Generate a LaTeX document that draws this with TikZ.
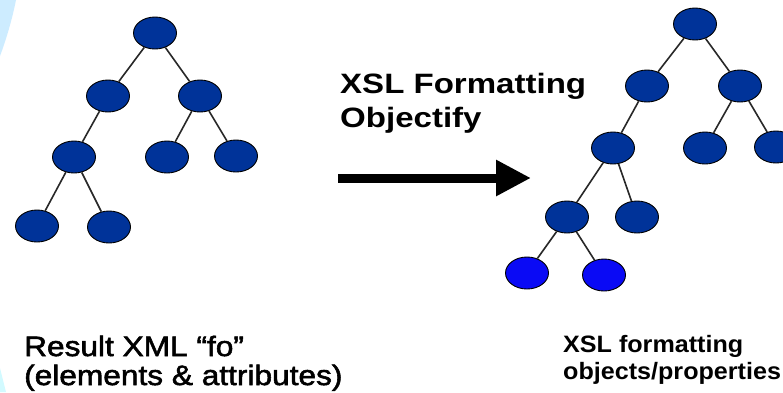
\documentclass[tikz,border=0pt]{standalone}
\usepackage{fontspec}
\setmainfont{Liberation Sans}
\newfontfamily\titlefont[FakeStretch=1.18]{Liberation Sans}
\newfontfamily\leftfont[FakeStretch=1.13,FakeBold=2]{Liberation Sans}
\newfontfamily\rightfont[FakeStretch=1.06]{Liberation Sans}
\usetikzlibrary{arrows.meta,shapes.geometric}
\definecolor{navy}{RGB}{0,51,153}
\definecolor{brightblue}{RGB}{10,10,245}
\definecolor{edgegray}{RGB}{40,40,40}
\definecolor{paleblue}{RGB}{205,236,255}
\tikzset{
  treenode/.style={ellipse, draw=black, line width=0.9pt, fill=navy, minimum width=43pt, minimum height=32pt, inner sep=0pt},
  leafnode/.style={treenode, fill=brightblue},
  treeedge/.style={draw=edgegray, line width=1.6pt},
  bigarrow/.style={line width=9pt, -{Triangle[length=35pt,width=34pt]}},
  txt/.style={anchor=base west, inner sep=0pt, text=black}
}
\begin{document}
\begin{tikzpicture}[x=1pt,y=-1pt]
\useasboundingbox (0,0) rectangle (783,392);
\fill[white] (0,0) rectangle (783,392);
% pale decoration at the left edge
\fill[paleblue] (0,0) -- (16,0) .. controls (12,20) and (6,40) .. (0,56) -- cycle;
\fill[paleblue!70!cyan!40] (0,368) -- (6,392) -- (0,392) -- cycle;

% left tree
\node[treenode] (l0) at (155,33) {};
\node[treenode] (l1a) at (108,96) {};
\node[treenode] (l1b) at (200,96) {};
\node[treenode] (l2a) at (74,157) {};
\node[treenode] (l2b) at (167,157) {};
\node[treenode] (l2c) at (236,156) {};
\node[treenode] (l3a) at (37,226) {};
\node[treenode] (l3b) at (109,227) {};

% right tree
\node[treenode] (r0) at (695,24) {};
\node[treenode] (r1a) at (647,86) {};
\node[treenode] (r1b) at (740,86) {};
\node[treenode] (r2a) at (613,148) {};
\node[treenode] (r2b) at (705,148) {};
\node[treenode] (r2c) at (776,147) {};
\node[treenode] (r3a) at (567,217) {};
\node[treenode] (r3b) at (637,217) {};
\node[leafnode] (r4a) at (527,273) {};
\node[leafnode] (r4b) at (604,275) {};

% edges
\draw[treeedge] (l0) -- (l1a);
\draw[treeedge] (l0) -- (l1b);
\draw[treeedge] (l1a) -- (l2a);
\draw[treeedge] (l1b) -- (l2b);
\draw[treeedge] (l1b) -- (l2c);
\draw[treeedge] (l2a) -- (l3a);
\draw[treeedge] (l2a) -- (l3b);
\draw[treeedge] (r0) -- (r1a);
\draw[treeedge] (r0) -- (r1b);
\draw[treeedge] (r1a) -- (r2a);
\draw[treeedge] (r1b) -- (r2b);
\draw[treeedge] (r1b) -- (r2c);
\draw[treeedge] (r2a) -- (r3a);
\draw[treeedge] (r2a) -- (r3b);
\draw[treeedge] (r3a) -- (r4a);
\draw[treeedge] (r3a) -- (r4b);

% arrow
\coordinate (astart) at (338,178);
\coordinate (aend) at (531,178);
\draw[bigarrow] (astart) -- (aend);

% texts
\node[txt, font=\titlefont\bfseries\fontsize{28}{31}\selectfont] (t1) at (340,93) {XSL Formatting};
\node[txt, font=\titlefont\bfseries\fontsize{28}{31}\selectfont] (t2) at (340,127) {Objectify};
\node[txt, font=\leftfont\fontsize{28}{30}\selectfont] (lb1) at (24,356) {Result XML “fo”};
\node[txt, font=\leftfont\fontsize{28}{30}\selectfont] (lb2) at (24,385) {(elements \& attributes)};
\node[txt, font=\rightfont\bfseries\fontsize{23.7}{29}\selectfont] (rb1) at (563,352) {XSL formatting};
\node[txt, font=\rightfont\bfseries\fontsize{23.7}{29}\selectfont] (rb2) at (563,379) {objects/properties};
\end{tikzpicture}
\end{document}
